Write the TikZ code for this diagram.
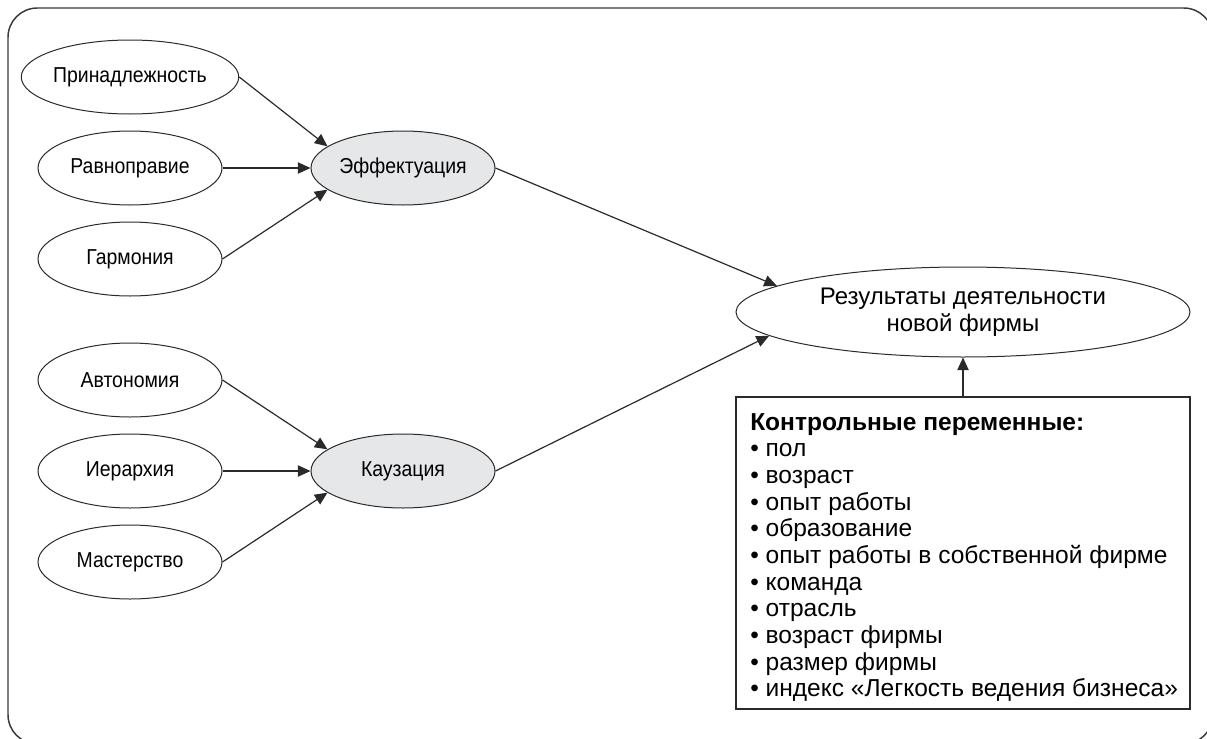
\documentclass[tikz,border=0pt]{standalone}
\usepackage{fontspec}
\setmainfont{Liberation Sans}
\newfontfamily\condfont[FakeStretch=0.9]{Liberation Sans}
\usetikzlibrary{shapes.geometric,arrows.meta}
\definecolor{linec}{HTML}{2A2A2A}
\definecolor{framec}{HTML}{3A3A3A}
\definecolor{fillc}{HTML}{E6E7E8}
\begin{document}
\begin{tikzpicture}[x=0.75pt,y=-0.75pt,
  ell/.style={ellipse,draw=linec,line width=0.75pt,minimum width=138pt,minimum height=55.5pt,inner sep=0pt,font=\condfont\fontsize{16.2}{19}\selectfont},
  gell/.style={ell,fill=fillc},
  arr/.style={draw=linec,line width=0.9pt,-{Triangle[length=9.5pt,width=8.5pt]}},
  ctrlbox/.style={draw=linec,line width=0.8pt,minimum width=340.5pt,minimum height=234pt,inner sep=0pt}
]
\clip (0,0) rectangle (1207,739);
\draw[framec,line width=1.1pt,rounded corners=22pt] (8,8) rectangle (1213,744);

\node[ell] (p1) at (130,77) {Принадлежность};
\node[ell] (p2) at (130,168) {Равноправие};
\node[ell] (p3) at (130,259) {Гармония};
\node[gell] (eff) at (403,168) {Эффектуация};

\node[ell] (q1) at (130,380) {Автономия};
\node[ell] (q2) at (130,471) {Иерархия};
\node[ell] (q3) at (130,562) {Мастерство};
\node[gell] (kau) at (403,471) {Каузация};

\node[ellipse,draw=linec,line width=0.75pt,minimum width=340.5pt,minimum height=67.5pt,inner sep=0pt,align=center,font=\fontsize{18}{20}\selectfont] (res) at (963,312) {Результаты деятельности\\новой фирмы};

\node[ctrlbox] (ctrl) at (963,553) {};
\node[anchor=north west,inner sep=0pt,align=left,font=\fontsize{18.4}{20}\selectfont] (ctrltxt) at (750,413)
 {\textbf{Контрольные переменные:}\\
  • пол\\
  • возраст\\
  • опыт работы\\
  • образование\\
  • опыт работы в собственной фирме\\
  • команда\\
  • отрасль\\
  • возраст фирмы\\
  • размер фирмы\\
  • индекс «Легкость ведения бизнеса»};

\draw[arr] (p1.east) -- (eff.164);
\draw[arr] (p2.east) -- (eff.west);
\draw[arr] (p3.east) -- (eff.196);
\draw[arr] (q1.east) -- (kau.164);
\draw[arr] (q2.east) -- (kau.west);
\draw[arr] (q3.east) -- (kau.196);
\draw[arr] (eff.east) -- (res.172.5);
\draw[arr] (kau.east) -- (res.187.5);
\draw[arr] (ctrl.north) -- (res.south);
\end{tikzpicture}
\end{document}
